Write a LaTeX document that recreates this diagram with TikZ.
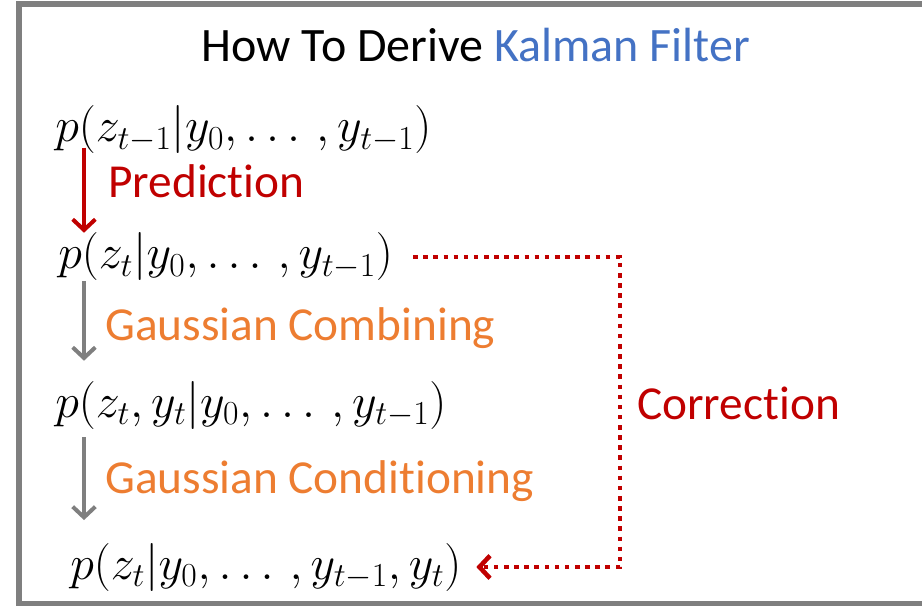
\RequirePackage{fix-cm}
\documentclass[tikz,border=0pt]{standalone}
\usepackage[no-math]{fontspec}
\newfontfamily\carlito[Ligatures=NoCommon]{Carlito}
\usepackage{xcolor}
\usetikzlibrary{arrows.meta, positioning}
\definecolor{kfred}{HTML}{C00000}
\definecolor{kforange}{HTML}{ED7D31}
\definecolor{kfblue}{HTML}{4472C4}
\definecolor{kfgray}{HTML}{7F7F7F}

\begin{document}
\begin{tikzpicture}[
  x=0.75pt, y=-0.75pt,
  eq/.style={inner sep=0pt, anchor=west, font=\fontsize{36}{42}\selectfont},
  lbl/.style={inner sep=0pt, anchor=base west, font=\carlito\fontsize{35.5}{42}\selectfont},
  tip/.style={-{Straight Barb[length=8pt, width=17pt]}},
  predict/.style={tip, line width=3pt, kfred},
  derive/.style={tip, line width=3pt, kfgray},
  correct/.style={tip, line width=3.4pt, kfred, dash pattern=on 3.4pt off 4.2pt}
]
\useasboundingbox (0,0) rectangle (922,606);
\draw[line width=4.5pt, kfgray] (922,4.5) -- (18.5,4.5) -- (18.5,604) -- (922,604);

\node[inner sep=0pt, anchor=base, font=\carlito\fontsize{36}{42}\selectfont] (title) at (476,62)
  {How To Derive \textcolor{kfblue}{Kalman Filter}};

\node[eq] (f1) at (55,130) {$p(z_{t-1}|y_0, \ldots\,, y_{t-1})$};
\node[eq] (f2) at (58,257) {$p(z_t|y_0, \ldots\,, y_{t-1})$};
\node[eq] (f3) at (55,405) {$p(z_t, y_t|y_0, \ldots\,, y_{t-1})$};
\node[eq] (f4) at (70,567) {$p(z_t|y_0, \ldots\,, y_{t-1}, y_t)$};

\node[lbl, kfred] (pred) at (108,198) {Prediction};
\node[lbl, kforange] (comb) at (105,340) {Gaussian Combining};
\node[lbl, kforange] (cond) at (105,493) {Gaussian Conditioning};
\node[lbl, kfred] (corr) at (637,419) {Correction};

\coordinate (col) at (84,0);
\coordinate (loop) at (620,0);

\draw[predict, shorten <=-5pt] (f1.south -| col) -- (f2.north -| col);
\draw[derive, shorten >=15pt] (f2.south -| col) -- (f3.north -| col);
\draw[derive, shorten <=6pt, shorten >=17pt] (f3.south -| col) -- (f4.north -| col);
\draw[correct] ([xshift=15pt]f2.east) -- (f2.east -| loop) -- (f4.east -| loop) -- ([xshift=11pt]f4.east);
\end{tikzpicture}
\end{document}
